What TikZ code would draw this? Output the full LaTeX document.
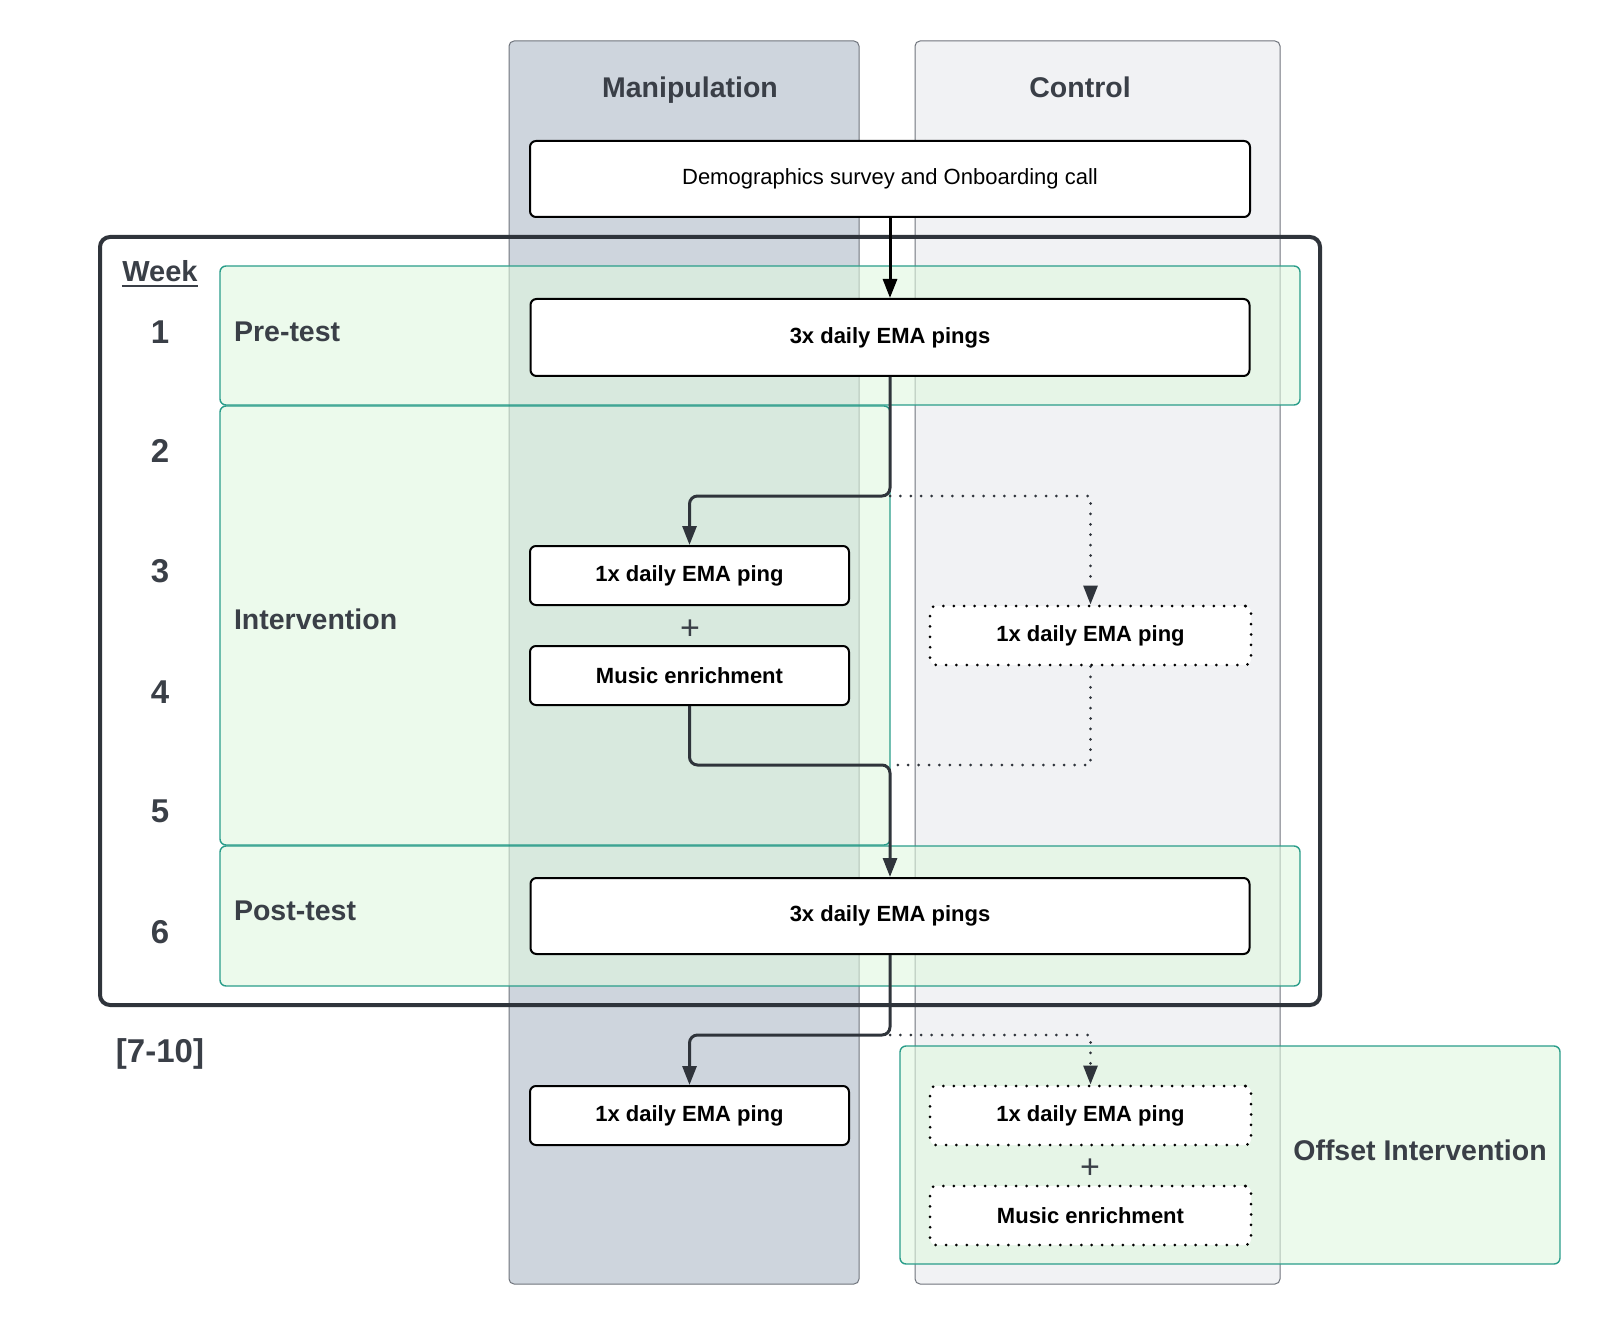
\documentclass[tikz,border=0pt]{standalone}
\usepackage{fontspec}
\setmainfont{Liberation Sans}
\usetikzlibrary{arrows.meta}
\definecolor{txt}{HTML}{3A3F47}
\definecolor{conncol}{HTML}{2F343B}
\definecolor{manfill}{HTML}{CED5DD}
\definecolor{ctlfill}{HTML}{F1F2F4}
\definecolor{lanebd}{HTML}{6F747C}
\definecolor{bandfill}{HTML}{DFF7DF}
\definecolor{bandbd}{HTML}{2A9D8A}
\tikzset{
  lane/.style={draw=lanebd, line width=0.5pt, rounded corners=2.5pt},
  band/.style={draw=bandbd, fill=bandfill, fill opacity=0.6, line width=0.7pt, rounded corners=3pt},
  box/.style={draw=black, fill=white, line width=1pt, rounded corners=3pt, inner sep=0pt, align=center,
    text=black, font=\fontsize{11pt}{13pt}\selectfont\bfseries},
  dbox/.style={box, dash pattern=on 0pt off 5.2pt, line cap=round, line width=1.5pt},
  conn/.style={draw=conncol, line width=1.5pt, rounded corners=4pt, -{Triangle[length=9.5pt,width=7pt]}},
  dconn/.style={draw=conncol, line width=1.5pt, dash pattern=on 0pt off 5.2pt, line cap=round},
  dconnarr/.style={dconn, -{Triangle[length=9.5pt,width=7pt]}},
  title/.style={text=txt, font=\fontsize{14.25pt}{17pt}\selectfont\bfseries},
  weeknum/.style={text=txt, font=\fontsize{16.5pt}{19pt}\selectfont\bfseries},
  phase/.style={text=txt, anchor=west, font=\fontsize{14.25pt}{17pt}\selectfont\bfseries},
  plus/.style={text=txt, font=\fontsize{17pt}{19pt}\selectfont}
}
\begin{document}
\begin{tikzpicture}[x=0.5pt,y=-0.5pt]
\useasboundingbox (0,0) rectangle (1600,1326);
% lanes
\path[lane, fill=manfill] (509,41) rectangle (859,1284);
\path[lane, fill=ctlfill] (915,41) rectangle (1280,1284);
\node[title, anchor=base] (tman) at (690,98) {Manipulation};
\node[title, anchor=base] (tctl) at (1080,98) {Control};
% bands
\path[band] (220,266) rectangle (1300,405);
\path[band] (220,406) rectangle (890,845);
\path[band] (220,846) rectangle (1300,986);
\path[band] (900,1046) rectangle (1560,1264);
% week frame
\draw[conncol, line width=2pt, rounded corners=5pt] (100,237) rectangle (1320,1005);
% week labels
\node[text=txt, anchor=base, font=\fontsize{14.5pt}{17pt}\selectfont\bfseries, inner sep=0pt] (week) at (160,282) {Week};
\draw[txt, line width=1.3pt] ([yshift=-2pt]week.base west) -- ([yshift=-2pt]week.base east);
\node[weeknum] (w1) at (160,332) {1};
\node[weeknum] (w2) at (160,451) {2};
\node[weeknum] (w3) at (160,571) {3};
\node[weeknum] (w4) at (160,692) {4};
\node[weeknum] (w5) at (160,811) {5};
\node[weeknum] (w6) at (160,932) {6};
\node[weeknum] (w7) at (160,1054) {[7-10]};
% phases
\node[phase] (ppre) at (227,332) {Pre-test};
\node[phase] (pint) at (227,619) {Intervention};
\node[phase] (ppost) at (227,911) {Post-test};
\node[title] (poff) at (1420,1150) {Offset Intervention};
% boxes
\node[box, minimum width=360pt, minimum height=38pt, font=\fontsize{11pt}{13pt}\selectfont] (demo) at (890,179) {Demographics survey and Onboarding call};
\node[box, minimum width=359.5pt, minimum height=38.5pt] (pre) at (890,337.5) {3x daily EMA pings};
\node[box, minimum width=159.5pt, minimum height=29.5pt] (m1) at (689.5,575.5) {1x daily EMA ping};
\node[plus] (plus1) at (690,630) {+};
\node[box, minimum width=159.5pt, minimum height=29.5pt] (mm) at (689.5,675.5) {Music enrichment};
\node[dbox, minimum width=160.5pt, minimum height=29.5pt] (c1) at (1090.5,635.5) {1x daily EMA ping};
\node[box, minimum width=359.5pt, minimum height=38pt] (post) at (890,916) {3x daily EMA pings};
\node[box, minimum width=159.5pt, minimum height=29.5pt] (m2) at (689.5,1115.5) {1x daily EMA ping};
\node[dbox, minimum width=160.5pt, minimum height=29.5pt] (c2) at (1090.5,1115.5) {1x daily EMA ping};
\node[plus] (plus2) at (1090,1169) {+};
\node[dbox, minimum width=160.5pt, minimum height=29.5pt] (cm) at (1090.5,1215.5) {Music enrichment};
% connectors
\coordinate (j1) at (890,496);
\coordinate (j2) at (890,765);
\coordinate (j3) at (890,1035);
\draw[conn, draw=black] (demo.south) -- (pre.north);
\draw[conn] (pre.south) -- (j1) -| (m1.north);
\draw[dconnarr] (j1) -| (c1.north);
\draw[conn] (mm.south) |- (j2) -- (post.north);
\draw[dconn] (c1.south) |- (j2);
\draw[conn] (post.south) -- (j3) -| (m2.north);
\draw[dconnarr] (j3) -| (c2.north);
\end{tikzpicture}
\end{document}
